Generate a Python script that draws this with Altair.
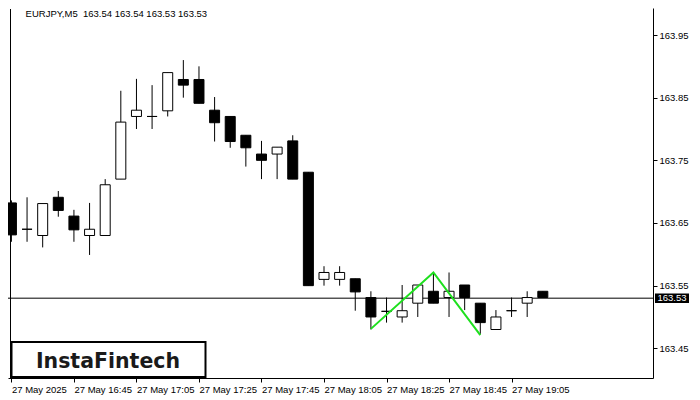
import altair as alt
import pandas as pd

# ---- data (EURJPY M5, 27 May 2025, 16:25 .. 19:15) ----
candle_idx = list(range(35))
opens = [163.682, 163.640, 163.630, 163.691, 163.661, 163.630, 163.630, 163.720, 163.820, 163.820,
         163.829, 163.879, 163.879, 163.830, 163.820, 163.790, 163.760, 163.760, 163.781, 163.731,
         163.560, 163.560, 163.561, 163.531, 163.509, 163.500, 163.522, 163.541, 163.531, 163.551,
         163.522, 163.480, 163.510, 163.522, 163.541]
highs = [163.686, 163.691, 163.681, 163.701, 163.671, 163.682, 163.720, 163.861, 163.880, 163.870,
         163.890, 163.910, 163.900, 163.851, 163.820, 163.790, 163.781, 163.771, 163.790, 163.731,
         163.581, 163.581, 163.561, 163.541, 163.531, 163.551, 163.551, 163.571, 163.571, 163.551,
         163.522, 163.511, 163.531, 163.541, 163.541]
lows = [163.620, 163.620, 163.611, 163.660, 163.620, 163.599, 163.630, 163.720, 163.800, 163.800,
        163.820, 163.850, 163.841, 163.780, 163.770, 163.740, 163.720, 163.720, 163.720, 163.550,
        163.550, 163.550, 163.510, 163.480, 163.491, 163.491, 163.500, 163.522, 163.500, 163.511,
        163.473, 163.480, 163.500, 163.500, 163.531]
closes = [163.631, 163.640, 163.681, 163.670, 163.639, 163.640, 163.711, 163.811, 163.830, 163.820,
          163.890, 163.870, 163.841, 163.810, 163.780, 163.770, 163.750, 163.771, 163.720, 163.550,
          163.571, 163.571, 163.540, 163.500, 163.509, 163.510, 163.551, 163.522, 163.541, 163.531,
          163.491, 163.500, 163.510, 163.531, 163.531]

tick_idx = [0, 4, 8, 12, 16, 20, 24, 28, 32]
tick_labels = ["27 May 2025", "27 May 16:45", "27 May 17:05", "27 May 17:25", "27 May 17:45",
               "27 May 18:05", "27 May 18:25", "27 May 18:45", "27 May 19:05"]
price_ticks = [163.45, 163.55, 163.65, 163.75, 163.85, 163.95]

pattern_idx = [23, 27, 30]
pattern_price = [163.481, 163.571, 163.471]

current_price = [163.53]
header = ["EURJPY,M5\u00a0 163.54 163.54 163.53 163.53"]
logo = ["InstaFintech"]

# ---- tables ----
df = pd.DataFrame({"k": candle_idx, "o": opens, "h": highs, "l": lows, "c": closes})
df["fill"] = ["white" if c >= o else "black" for o, c in zip(opens, closes)]
pat = pd.DataFrame({"k": pattern_idx, "p": pattern_price})
cur = pd.DataFrame({"p": current_price})
hdr = pd.DataFrame({"t": header})
lg = pd.DataFrame({"t": logo})

FONT = "Liberation Sans"
xscale = alt.Scale(domain=[-0.2188, 41.05], nice=False, zero=False, padding=0)
yscale = alt.Scale(domain=[163.4026, 163.9931], nice=False, zero=False, padding=0)

label_expr = "[" + ",".join("'%s'" % s for s in tick_labels) + "][indexof([" + \
    ",".join(str(v) for v in tick_idx) + "], datum.value)]"

x_axis = alt.Axis(values=tick_idx, labelExpr=label_expr, grid=False, domain=True,
                  domainColor="black", tickColor="black", tickSize=4, labelAlign="left",
                  labelPadding=2, labelFontSize=9.5, labelFont=FONT, labelColor="black",
                  labelOverlap=False, labelFlush=False, title=None)
y_axis = alt.Axis(orient="right", values=price_ticks, format=".2f", grid=False, domain=True,
                  domainColor="black", tickColor="black", tickSize=4, labelPadding=2,
                  labelFontSize=9.5, labelFont=FONT, labelColor="black", title=None)

X = alt.X("k:Q", scale=xscale, axis=x_axis, title=None)


def Yq(field):
    return alt.Y(field, scale=yscale, axis=y_axis, title=None)


price_line = alt.Chart(cur).mark_rule(color="black", strokeWidth=1).encode(y=Yq("p:Q"))

wicks = alt.Chart(df).mark_rule(color="black", strokeWidth=1).encode(
    x=X, y=Yq("l:Q"), y2="h:Q")

bodies = alt.Chart(df).mark_bar(width=10, stroke="black", strokeWidth=1).encode(
    x=X, y=Yq("o:Q"), y2="c:Q",
    fill=alt.Fill("fill:N", scale=None, legend=None))

pattern = alt.Chart(pat).mark_line(color="#1ee01e", strokeWidth=2).encode(
    x=X, y=Yq("p:Q"))

box_shape = "M-1,-0.2794L1,-0.2794L1,0.2794L-1,0.2794Z"
price_box = alt.Chart(cur).mark_point(shape=box_shape, size=1156, filled=True, color="black",
                                      opacity=1, strokeWidth=0).encode(
    x=alt.value(664), y=Yq("p:Q"))
price_text = alt.Chart(cur).mark_text(color="white", fontSize=9.5, font=FONT, align="center",
                                      baseline="middle").encode(
    x=alt.value(664), y=Yq("p:Q"),
    text=alt.Text("p:Q", format=".2f"))

left_frame = alt.Chart(cur).mark_rule(color="black", strokeWidth=1).encode(
    x=alt.value(2.5), y=alt.value(1), y2=alt.value(370))

header_text = alt.Chart(hdr).mark_text(align="left", baseline="middle", fontSize=9.5,
                                       font=FONT, color="black").encode(
    x=alt.value(17.6), y=alt.value(5.5), text="t:N")

logo_box = alt.Chart(lg).mark_rect(fill="white", stroke="black", strokeWidth=2).encode(
    x=alt.value(3.5), x2=alt.value(197.5), y=alt.value(334), y2=alt.value(369))
logo_text = alt.Chart(lg).mark_text(align="center", baseline="alphabetic", fontSize=20.5,
                                    font="DejaVu Sans", fontWeight="bold", color="#1a1a1a").encode(
    x=alt.value(100), y=alt.value(360), text="t:N")

chart = alt.layer(
    wicks, price_line, bodies, pattern, left_frame, price_box, price_text,
    header_text, logo_box, logo_text
).properties(
    width=645, height=370,
    padding={"left": 0, "top": 0, "right": 39, "bottom": 22},
    autosize=alt.AutoSizeParams(type="none"),
    background="white",
).configure_view(stroke=None)

chart.save("out.html", embed_options={"renderer": "svg", "actions": False})
